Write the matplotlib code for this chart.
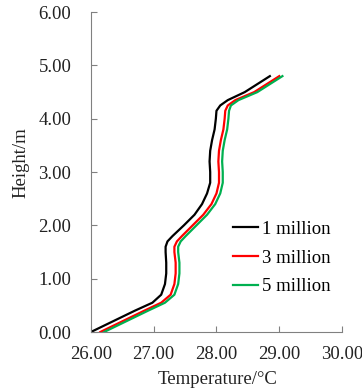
import numpy as np
import matplotlib
matplotlib.use('Agg')
import matplotlib.pyplot as plt

plt.rcParams['font.family'] = ['Liberation Serif', 'DejaVu Serif']

heights = [0, 0.2, 0.4, 0.55, 0.7, 0.9, 1.1, 1.3, 1.5, 1.6, 1.7, 1.8, 2.0, 2.2, 2.4,
           2.6, 2.8, 3.0, 3.2, 3.4, 3.6, 3.8, 4.0, 4.15, 4.25, 4.35, 4.5, 4.65, 4.8]

temp_1m = [26.00, 26.35, 26.70, 26.98, 27.12, 27.18, 27.20, 27.20, 27.19, 27.19, 27.22,
           27.30, 27.48, 27.65, 27.77, 27.85, 27.90, 27.90, 27.89, 27.90, 27.93,
           27.97, 27.99, 28.00, 28.06, 28.18, 28.45, 28.65, 28.85]
temp_3m = [26.15, 26.50, 26.85, 27.12, 27.27, 27.33, 27.35, 27.35, 27.33, 27.33, 27.37,
           27.45, 27.62, 27.79, 27.92, 28.00, 28.04, 28.04, 28.03, 28.04, 28.07,
           28.11, 28.13, 28.14, 28.18, 28.30, 28.60, 28.80, 29.00]
temp_5m = [26.21, 26.56, 26.91, 27.18, 27.33, 27.39, 27.41, 27.41, 27.39, 27.39, 27.43,
           27.51, 27.68, 27.85, 27.98, 28.06, 28.10, 28.10, 28.09, 28.10, 28.13,
           28.17, 28.19, 28.20, 28.23, 28.35, 28.65, 28.85, 29.05]

labels = ['1 million', '3 million', '5 million']
colors = ['#000000', '#ff0000', '#00b050']

fig = plt.figure(figsize=(3.62, 3.92), dpi=100)
ax = fig.add_axes([0.251, 0.153, 0.694, 0.816])

for temps, lab, c in zip([temp_1m, temp_3m, temp_5m], labels, colors):
    ax.plot(temps, heights, color=c, linewidth=1.6, label=lab)

ax.set_xlim(26, 30)
ax.set_ylim(0, 6)
ax.set_xticks(np.arange(26, 30.5, 1))
ax.set_yticks(np.arange(0, 6.5, 1))
ax.xaxis.set_major_formatter(matplotlib.ticker.FormatStrFormatter('%.2f'))
ax.yaxis.set_major_formatter(matplotlib.ticker.FormatStrFormatter('%.2f'))

for s in ['top', 'right']:
    ax.spines[s].set_visible(False)
for s in ['left', 'bottom']:
    ax.spines[s].set_color('#808080')
    ax.spines[s].set_linewidth(0.8)
ax.tick_params(direction='in', length=4.3, width=0.8, color='#808080',
               labelsize=13.5, labelcolor='#222222')
ax.tick_params(axis='y', pad=14)
ax.tick_params(axis='x', pad=10)

ax.set_xlabel('Temperature/\u00b0C', fontsize=13.5, color='#222222')
ax.set_ylabel('Height/m', fontsize=13.5, color='#222222')
ax.xaxis.set_label_coords(0.506, -0.122)
ax.yaxis.set_label_coords(-0.245, 0.53)

ax.legend(loc='center left', bbox_to_anchor=(0.566, 0.231), frameon=False,
          fontsize=13.5, handlelength=1.34, handletextpad=0.2, labelspacing=0.62,
          borderpad=0, borderaxespad=0)

fig.savefig('out.png', dpi=100)
